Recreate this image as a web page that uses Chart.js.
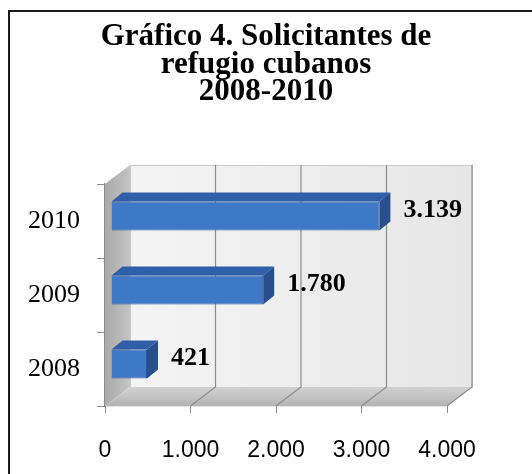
<!DOCTYPE html>
<html>
<head>
<meta charset="utf-8">
<script src="https://cdn.jsdelivr.net/npm/chart.js@4.4.1/dist/chart.umd.min.js"></script>
<style>
  html, body { margin: 0; padding: 0; background: #fff; }
  #wrap { width: 532px; height: 474px; }
</style>
</head>
<body>
<div id="wrap"><canvas id="c" width="532" height="474"></canvas></div>
<script>
"use strict";

// ── datos ─────────────────────────────────────────────
const titleLines = ["Gráfico 4. Solicitantes de", "refugio cubanos", "2008-2010"];
const years = ["2010", "2009", "2008"];
const solicitantes = [3139, 1780, 421];
const xTicks = [0, 1000, 2000, 3000, 4000];

// profundidad 3D (px)
const WALL = { dx: 25, dy: -19 };
const BAR_SHIFT = { dx: 6, dy: -5 };
const BAR_DEPTH = { dx: 11, dy: -9 };

const fmt = (v) => v.toLocaleString("de-DE");

// ── marco y título ────────────────────────────────────
const frame = {
  id: "frame",
  beforeDraw(chart) {
    const ctx = chart.ctx;
    ctx.save();
    ctx.strokeStyle = "#1a1a1a";
    ctx.lineWidth = 2;
    ctx.strokeRect(9, 11, 560, 520);
    ctx.fillStyle = "#000";
    ctx.font = "bold 31px 'Liberation Serif', 'Times New Roman', serif";
    ctx.textAlign = "center";
    ctx.textBaseline = "middle";
    titleLines.forEach((t, i) => ctx.fillText(t, chart.width / 2, 37 + i * 27.5));
    ctx.restore();
  },
};

// ── paredes y suelo 3D ────────────────────────────────
const walls = {
  id: "walls",
  beforeDatasetsDraw(chart) {
    const { ctx, chartArea: a, scales } = chart;
    const { dx, dy } = WALL;
    ctx.save();
    // pared del fondo
    const g = ctx.createLinearGradient(a.left + dx, 0, a.right + dx, 0);
    g.addColorStop(0, "#f4f4f4");
    g.addColorStop(1, "#e6e6e6");
    ctx.fillStyle = g;
    ctx.fillRect(a.left + dx, a.top + dy, a.right - a.left, a.bottom - a.top);
    ctx.strokeStyle = "#c8c8c8";
    ctx.lineWidth = 1;
    ctx.strokeRect(a.left + dx + 0.5, a.top + dy + 0.5, a.right - a.left, a.bottom - a.top);
    // pared izquierda
    const gl = ctx.createLinearGradient(a.left, 0, a.left + dx, 0);
    gl.addColorStop(0, "#a9a9a9");
    gl.addColorStop(1, "#c4c4c4");
    ctx.fillStyle = gl;
    ctx.beginPath();
    ctx.moveTo(a.left, a.top);
    ctx.lineTo(a.left + dx, a.top + dy);
    ctx.lineTo(a.left + dx, a.bottom + dy);
    ctx.lineTo(a.left, a.bottom);
    ctx.closePath();
    ctx.fill();
    // suelo
    const gf = ctx.createLinearGradient(0, a.bottom + dy, 0, a.bottom);
    gf.addColorStop(0, "#d2d2d2");
    gf.addColorStop(1, "#b4b4b4");
    ctx.fillStyle = gf;
    ctx.beginPath();
    ctx.moveTo(a.left, a.bottom);
    ctx.lineTo(a.left + dx, a.bottom + dy);
    ctx.lineTo(a.right + dx, a.bottom + dy);
    ctx.lineTo(a.right, a.bottom);
    ctx.closePath();
    ctx.fill();
    // líneas de división
    ctx.strokeStyle = "#8c8c8c";
    ctx.lineWidth = 1.2;
    xTicks.forEach((v) => {
      if (v === 0) return;
      const x = scales.x.getPixelForValue(v);
      ctx.beginPath();
      ctx.moveTo(x + dx, a.top + dy);
      ctx.lineTo(x + dx, a.bottom + dy);
      ctx.lineTo(x, a.bottom);
      ctx.stroke();
    });
    ctx.restore();
    // barras desplazadas hacia el fondo
    ctx.save();
    ctx.translate(BAR_SHIFT.dx, BAR_SHIFT.dy);
  },
  afterDatasetsDraw(chart) {
    const ctx = chart.ctx;
    const { dx, dy } = BAR_DEPTH;
    chart.getDatasetMeta(0).data.forEach((bar) => {
      const { x, y, base, height } = bar.getProps(["x", "y", "base", "height"], true);
      const top = y - height / 2, bot = y + height / 2;
      // cara superior
      ctx.fillStyle = "#2f5fa8";
      ctx.beginPath();
      ctx.moveTo(base, top);
      ctx.lineTo(base + dx, top + dy);
      ctx.lineTo(x + dx, top + dy);
      ctx.lineTo(x, top);
      ctx.closePath();
      ctx.fill();
      // cara lateral
      ctx.fillStyle = "#284f8c";
      ctx.beginPath();
      ctx.moveTo(x, top);
      ctx.lineTo(x + dx, top + dy);
      ctx.lineTo(x + dx, bot + dy);
      ctx.lineTo(x, bot);
      ctx.closePath();
      ctx.fill();
    });
    ctx.restore();
    // etiquetas de valor
    ctx.save();
    ctx.font = "bold 26px 'Liberation Serif', 'Times New Roman', serif";
    ctx.fillStyle = "#000";
    ctx.textAlign = "left";
    ctx.textBaseline = "middle";
    chart.getDatasetMeta(0).data.forEach((bar, i) => {
      const { x, y } = bar.getProps(["x", "y"], true);
      ctx.fillText(fmt(solicitantes[i]), x + BAR_SHIFT.dx + 24, y + BAR_SHIFT.dy - 6);
    });
    ctx.restore();
  },
};

new Chart(document.getElementById("c"), {
  type: "bar",
  data: {
    labels: years,
    datasets: [
      {
        data: solicitantes,
        backgroundColor: (c) => {
          const { ctx, chartArea } = c.chart;
          if (!chartArea) return "#4078c8";
          const el = c.element;
          if (!el || el.y == null) return "#4078c8";
          const h = el.height || 28;
          const g = ctx.createLinearGradient(0, el.y - h / 2, 0, el.y + h / 2);
          g.addColorStop(0, "#3a70c0");
          g.addColorStop(0.45, "#4a84d2");
          g.addColorStop(1, "#3466b2");
          return g;
        },
        borderColor: "#2b5597",
        borderWidth: 1,
        barPercentage: 0.39,
        categoryPercentage: 1,
      },
    ],
  },
  options: {
    indexAxis: "y",
    responsive: false,
    animation: false,
    layout: { padding: { left: 0, right: 85, top: 184, bottom: 0 } },
    plugins: {
      legend: { display: false },
      tooltip: { enabled: false },
      title: { display: false },
    },
    scales: {
      x: {
        min: 0,
        max: 4000,
        afterBuildTicks: (s) => { s.ticks = xTicks.map((v) => ({ value: v })); },
        afterFit: (s) => { s.height = 68; },
        ticks: {
          color: "#000",
          font: { family: "'Liberation Sans', Arial, sans-serif", size: 23 },
          padding: 24,
          callback: (v) => fmt(v),
        },
        grid: { drawOnChartArea: false, color: "#8c8c8c", tickLength: 7 },
        border: { color: "#8c8c8c", width: 1.2 },
      },
      y: {
        afterFit: (s) => { s.width = 105; },
        ticks: {
          color: "#000",
          font: { family: "'Liberation Serif', 'Times New Roman', serif", size: 26 },
          padding: 17,
        },
        grid: { drawOnChartArea: false, color: "#8c8c8c", tickLength: 8 },
        border: { color: "#8c8c8c", width: 1.2 },
      },
    },
  },
  plugins: [frame, walls],
});
</script>
</body>
</html>
